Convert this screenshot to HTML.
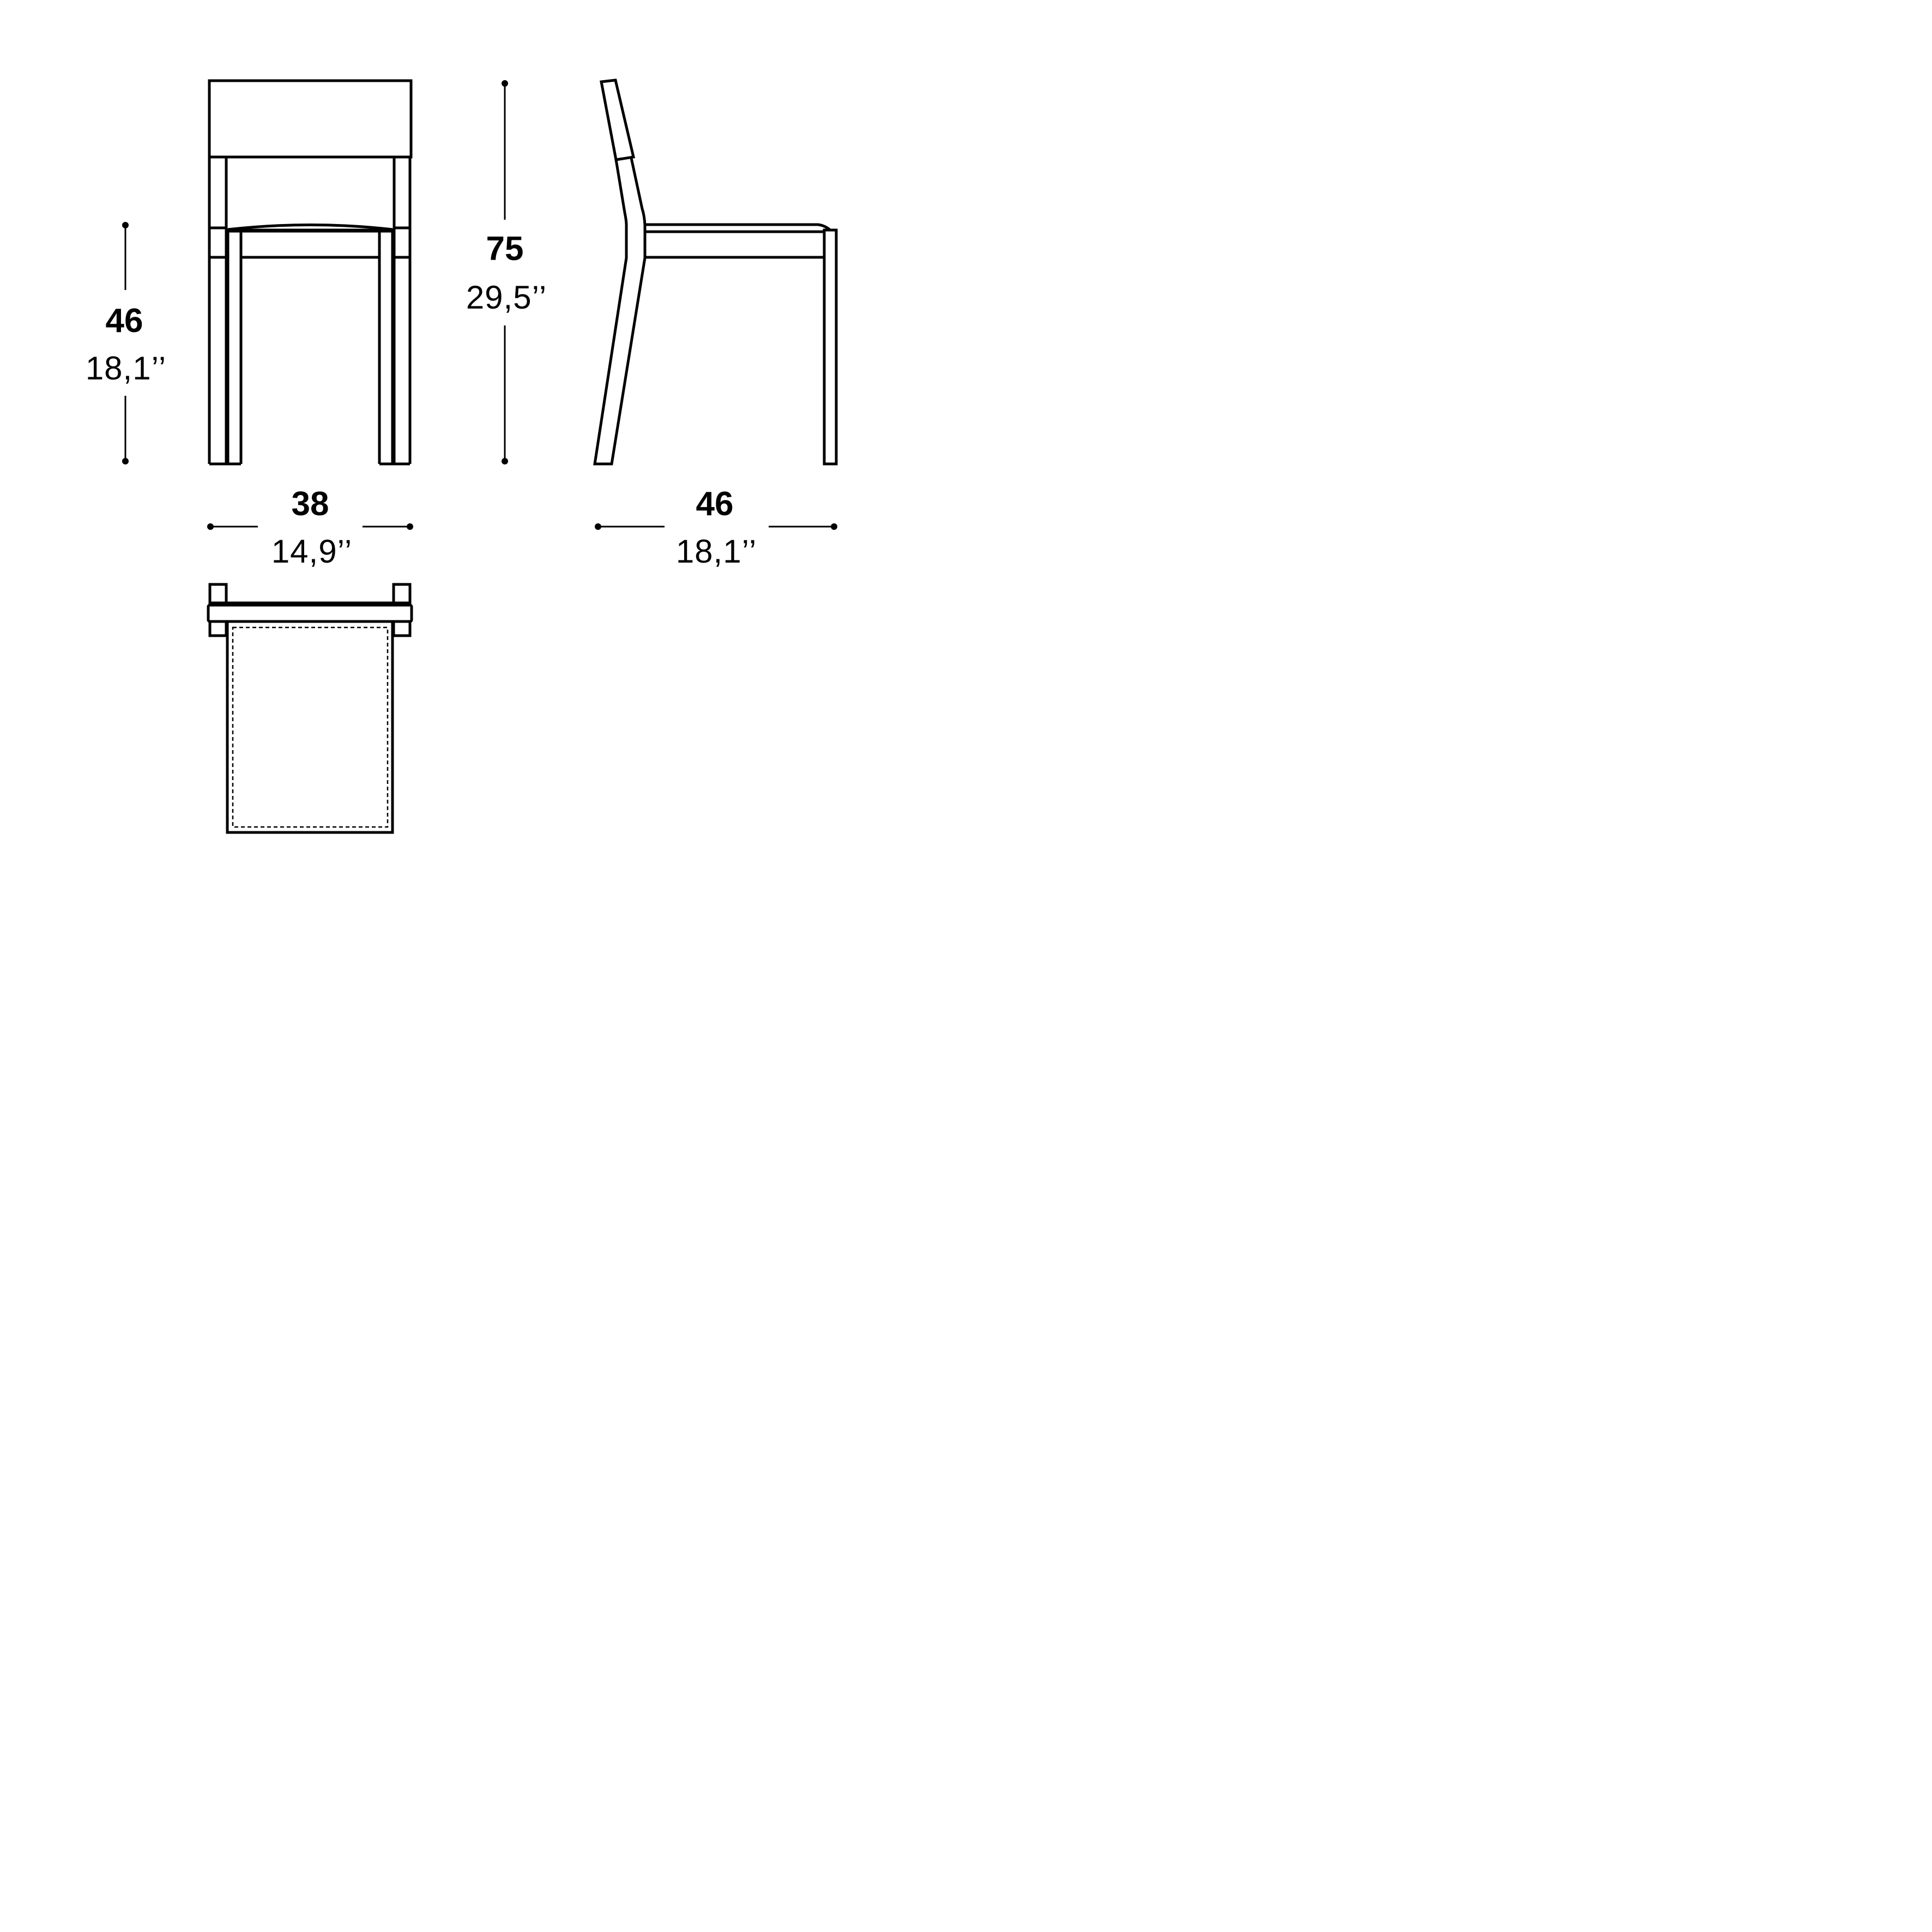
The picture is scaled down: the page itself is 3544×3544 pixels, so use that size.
<!DOCTYPE html>
<html><head><meta charset="utf-8"><style>
html,body{margin:0;padding:0;background:#fff}
svg{display:block}
.b{font-family:"Liberation Sans",sans-serif;font-weight:bold;font-size:62px;text-anchor:middle;fill:#000}
.l{font-family:"Liberation Sans",sans-serif;font-weight:normal;font-size:60px;text-anchor:middle;fill:#000;letter-spacing:1px}
</style></head><body>
<svg width="3544" height="3544" viewBox="0 0 3544 3544" xmlns="http://www.w3.org/2000/svg">
<rect width="3544" height="3544" fill="#fff"/>
<g fill="none" stroke="#000" stroke-width="5" stroke-linejoin="miter">
<rect x="384" y="148" width="370" height="140"/>
<line x1="384" y1="288" x2="384" y2="851"/>
<line x1="415" y1="288" x2="415" y2="851"/>
<line x1="723" y1="288" x2="723" y2="851"/>
<line x1="752" y1="288" x2="752" y2="851"/>
<line x1="384" y1="851" x2="442" y2="851"/>
<line x1="696" y1="851" x2="752" y2="851"/>
<line x1="384" y1="418" x2="415" y2="418"/>
<line x1="723" y1="418" x2="752" y2="418"/>
<line x1="384" y1="472" x2="415" y2="472"/>
<line x1="723" y1="472" x2="752" y2="472"/>
<line x1="415" y1="423" x2="723" y2="423" stroke-width="7"/>
<path d="M418 421 Q569 404 720 421"/>
<line x1="417" y1="423" x2="417" y2="851" stroke-width="7"/>
<line x1="721" y1="423" x2="721" y2="851" stroke-width="7"/>
<line x1="442" y1="423" x2="442" y2="851"/>
<line x1="696" y1="423" x2="696" y2="851"/>
<line x1="442" y1="472" x2="696" y2="472"/>
<polygon points="1103,150 1129,147 1162,288 1130,293"/>
<path d="M1130 293 L1146 390 Q1149 405 1149 413 L1149 473 L1091 851 L1122 851 L1183 473 L1183 413 Q1182 395 1178 383 L1158 290"/>
<path d="M1183 412 L1500 412 Q1512 413 1523 422 L1534 422"/>
<line x1="1183" y1="425" x2="1512" y2="425"/>
<line x1="1183" y1="472" x2="1512" y2="472"/>
<rect x="1512" y="422" width="22" height="429"/>
<rect x="385" y="1072" width="30" height="38"/>
<rect x="722" y="1072" width="30" height="38"/>
<rect x="382" y="1110" width="373" height="30" rx="3"/>
<line x1="385" y1="1108" x2="752" y2="1108" stroke-width="9"/>
<rect x="385" y="1140" width="30" height="26"/>
<rect x="722" y="1140" width="30" height="26"/>
<rect x="417" y="1140" width="303" height="387"/>
<rect x="427" y="1151" width="284" height="366" stroke-width="2.5" stroke-dasharray="7,5"/>
<line x1="230" y1="413" x2="230" y2="532" stroke-width="3"/>
<line x1="230" y1="726" x2="230" y2="846" stroke-width="3"/>
<line x1="926" y1="153" x2="926" y2="403" stroke-width="3"/>
<line x1="926" y1="597" x2="926" y2="846" stroke-width="3"/>
<line x1="386" y1="966" x2="473" y2="966" stroke-width="3"/>
<line x1="665" y1="966" x2="752" y2="966" stroke-width="3"/>
<line x1="1097" y1="966" x2="1219" y2="966" stroke-width="3"/>
<line x1="1410" y1="966" x2="1530" y2="966" stroke-width="3"/>
</g>
<g fill="#000">
<circle cx="230" cy="413" r="6"/><circle cx="230" cy="846" r="6"/>
<circle cx="926" cy="153" r="6"/><circle cx="926" cy="846" r="6"/>
<circle cx="386" cy="966" r="6"/><circle cx="752" cy="966" r="6"/>
<circle cx="1097" cy="966" r="6"/><circle cx="1530" cy="966" r="6"/>
</g>
<text class="b" x="228" y="609">46</text>
<text class="l" x="231" y="696">18,1’’</text>
<text class="b" x="926" y="477">75</text>
<text class="l" x="929" y="566">29,5’’</text>
<text class="b" x="569" y="945">38</text>
<text class="l" x="572" y="1032">14,9’’</text>
<text class="b" x="1311" y="945">46</text>
<text class="l" x="1314" y="1032">18,1’’</text>
</svg>
</body></html>
